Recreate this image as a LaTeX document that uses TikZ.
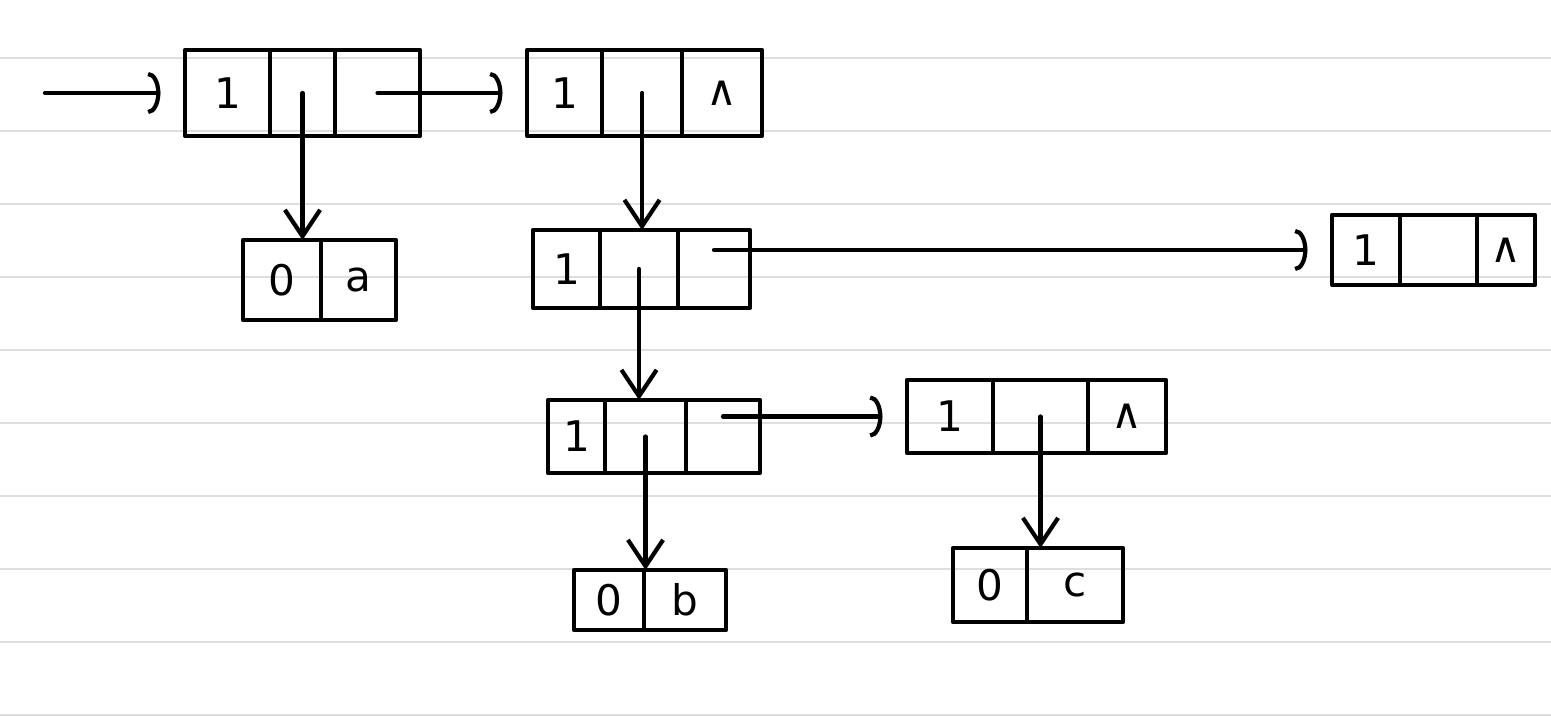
\documentclass[tikz,border=0pt]{standalone}
\usepackage{fontspec}
\setmainfont{DejaVu Sans}
\usetikzlibrary{arrows.meta}
\begin{document}
\begin{tikzpicture}[x=0.02cm,y=-0.02cm,
  stroke/.style={line width=2.4pt, line cap=round, line join=round},
  field/.style={draw, stroke, inner sep=0pt, outer sep=0pt,
    font=\fontsize{24}{28}\selectfont},
  ruling/.style={draw=black!13, line width=1.6pt},
  down/.style={stroke, -{Straight Barb[length=15pt,width=20pt]}},
  next/.style={stroke, -{Arc Barb[length=7pt,width=24pt]}, shorten >=14pt},
]
\useasboundingbox (0,0) rectangle (1551,716);
% ruled paper
\foreach \y in {58,131,...,715} \draw[ruling] (0,\y) -- (1551,\y);

% list node A: tag | hp | tp
\node[field, minimum width=1.7cm, minimum height=1.72cm] (A1) at (227.5,93) {1};
\node[field, minimum width=1.3cm, minimum height=1.72cm] (A2) at (302.5,93) {};
\node[field, minimum width=1.7cm, minimum height=1.72cm] (A3) at (377.5,93) {};

% list node B
\node[field, minimum width=1.5cm, minimum height=1.72cm] (B1) at (564.5,93) {1};
\node[field, minimum width=1.6cm, minimum height=1.72cm] (B2) at (642,93) {};
\node[field, minimum width=1.6cm, minimum height=1.72cm] (B3) at (722,93) {∧};

% atom a
\node[field, minimum width=1.56cm, minimum height=1.6cm] (a1) at (282,280) {0};
\node[field, minimum width=1.5cm, minimum height=1.6cm] (a2) at (358.5,280) {a};

% list node C
\node[field, minimum width=1.34cm, minimum height=1.56cm] (C1) at (566.5,269) {1};
\node[field, minimum width=1.56cm, minimum height=1.56cm] (C2) at (639,269) {};
\node[field, minimum width=1.44cm, minimum height=1.56cm] (C3) at (714,269) {};

% list node D (empty sublist)
\node[field, minimum width=1.36cm, minimum height=1.4cm] (D1) at (1366,250) {1};
\node[field, minimum width=1.54cm, minimum height=1.4cm] (D2) at (1438.5,250) {};
\node[field, minimum width=1.16cm, minimum height=1.4cm] (D3) at (1506,250) {∧};

% list node E
\node[field, minimum width=1.14cm, minimum height=1.46cm] (E1) at (576.5,436.5) {1};
\node[field, minimum width=1.62cm, minimum height=1.46cm] (E2) at (645.5,436.5) {};
\node[field, minimum width=1.48cm, minimum height=1.46cm] (E3) at (723,436.5) {};

% list node F
\node[field, minimum width=1.72cm, minimum height=1.46cm] (F1) at (950,416.5) {1};
\node[field, minimum width=1.9cm, minimum height=1.46cm] (F2) at (1040.5,416.5) {};
\node[field, minimum width=1.56cm, minimum height=1.46cm] (F3) at (1127,416.5) {∧};

% atom b
\node[field, minimum width=1.4cm, minimum height=1.2cm] (b1) at (609,600) {0};
\node[field, minimum width=1.64cm, minimum height=1.2cm] (b2) at (685,600) {b};

% atom c
\node[field, minimum width=1.48cm, minimum height=1.48cm] (c1) at (990,585) {0};
\node[field, minimum width=1.92cm, minimum height=1.48cm] (c2) at (1075,585) {c};

% head pointer into the list
\coordinate (in) at (45,93);
\draw[next] (in) -- (A1.west);

% tail pointers
\draw[next] (A3.center) -- (A3.center -| B1.west);
\draw[next] (C3.center |- D1.west) -- (D1.west);
\draw[next] (E3.center |- F1.west) -- (F1.west);

% head pointers
\draw[down] (A2.center) -- (A2.center |- a1.north);
\draw[down] (B2.center) -- (B2.center |- C2.north);
\draw[down] (C2.center) -- (C2.center |- E2.north);
\draw[down] (E2.center) -- (E2.center |- b1.north);
\draw[down] (F2.center) -- (F2.center |- c1.north);
\end{tikzpicture}
\end{document}
